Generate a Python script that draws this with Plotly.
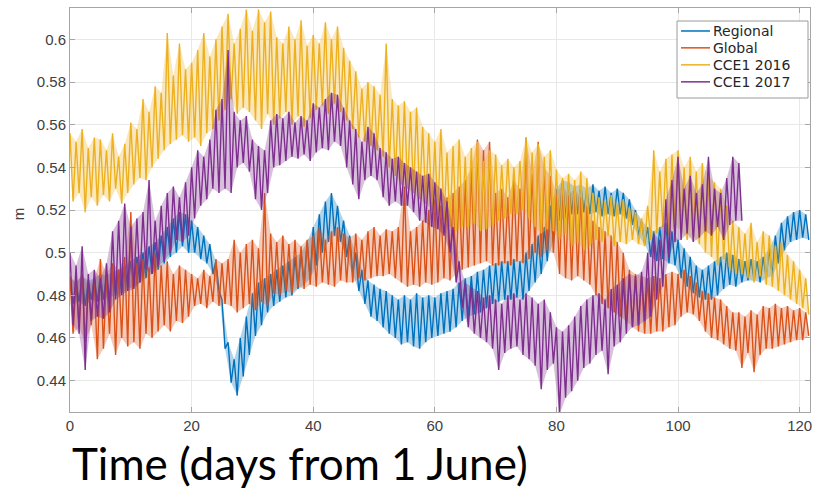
import plotly.graph_objects as go

# ---- data (peak / trough per day) ----
days = list(range(0, 122))

regional_hi = [0.488,0.486,0.489,0.487,0.488, 0.490,0.489,0.491,0.492,0.494,
               0.496,0.498,0.500,0.503,0.505, 0.508,0.512,0.516,0.519,0.518,
               0.515,0.512,0.508,0.504,0.496, 0.478,0.458,0.450,0.460,0.470,
               0.481,0.486,0.488,0.490,0.492, 0.494,0.496,0.498,0.500,0.505,
               0.512,0.518,0.524,0.528,0.522, 0.515,0.508,0.500,0.492,0.487,
               0.485,0.483,0.482,0.480,0.478, 0.480,0.478,0.481,0.479,0.480,
               0.479,0.481,0.482,0.483,0.486, 0.488,0.489,0.491,0.492,0.494,
               0.495,0.496,0.496,0.497,0.496, 0.500,0.504,0.508,0.512,0.522,
               0.530,0.534,0.533,0.531,0.532, 0.530,0.532,0.529,0.531,0.528,
               0.530,0.528,0.525,0.520,0.515, 0.512,0.510,0.512,0.514,0.510,
               0.506,0.502,0.498,0.494,0.492, 0.494,0.496,0.498,0.500,0.499,
               0.497,0.496,0.497,0.496,0.498, 0.502,0.508,0.514,0.517,0.519,
               0.520,0.518]
regional_lo = [0.476,0.477,0.475,0.478,0.477, 0.478,0.479,0.480,0.481,0.483,
               0.484,0.486,0.488,0.490,0.492, 0.495,0.498,0.500,0.503,0.500,
               0.500,0.497,0.495,0.490,0.482, 0.455,0.439,0.433,0.442,0.452,
               0.461,0.466,0.472,0.475,0.477, 0.479,0.480,0.483,0.485,0.488,
               0.494,0.500,0.505,0.508,0.505, 0.498,0.490,0.482,0.476,0.470,
               0.468,0.465,0.462,0.460,0.457, 0.458,0.456,0.455,0.458,0.460,
               0.461,0.462,0.463,0.465,0.468, 0.470,0.471,0.472,0.474,0.476,
               0.477,0.478,0.478,0.479,0.478, 0.482,0.486,0.490,0.496,0.505,
               0.515,0.516,0.518,0.518,0.519, 0.518,0.519,0.517,0.518,0.517,
               0.518,0.516,0.513,0.508,0.504, 0.498,0.496,0.497,0.495,0.494,
               0.488,0.484,0.481,0.479,0.478, 0.478,0.480,0.483,0.485,0.484,
               0.486,0.487,0.487,0.486,0.488, 0.489,0.495,0.501,0.505,0.506,
               0.507,0.506]

global_hi = [0.489,0.486,0.490,0.484,0.488, 0.497,0.490,0.495,0.492,0.498,
             0.519,0.495,0.497,0.493,0.500, 0.494,0.496,0.490,0.494,0.492,
             0.490,0.488,0.492,0.489,0.497, 0.495,0.497,0.506,0.500,0.504,
             0.506,0.502,0.528,0.509,0.505, 0.508,0.504,0.506,0.503,0.506,
             0.508,0.512,0.506,0.510,0.512, 0.509,0.507,0.509,0.506,0.510,
             0.512,0.508,0.511,0.510,0.512, 0.531,0.510,0.512,0.515,0.520,
             0.525,0.522,0.526,0.528,0.531, 0.534,0.540,0.553,0.548,0.552,
             0.528,0.530,0.526,0.534,0.530, 0.554,0.537,0.552,0.540,0.536,
             0.528,0.532,0.527,0.530,0.526, 0.522,0.515,0.512,0.510,0.508,
             0.505,0.500,0.492,0.490,0.489, 0.488,0.489,0.488,0.490,0.491,
             0.490,0.492,0.489,0.486,0.482, 0.481,0.479,0.478,0.475,0.472,
             0.472,0.470,0.473,0.471,0.475, 0.474,0.476,0.474,0.475,0.473,
             0.474,0.472]
global_lo = [0.462,0.465,0.458,0.466,0.450, 0.455,0.462,0.452,0.460,0.456,
             0.458,0.455,0.462,0.460,0.463, 0.466,0.463,0.468,0.467,0.470,
             0.475,0.476,0.474,0.477,0.475, 0.476,0.475,0.472,0.474,0.476,
             0.473,0.477,0.475,0.481,0.480, 0.482,0.481,0.484,0.483,0.485,
             0.484,0.486,0.485,0.484,0.487, 0.486,0.486,0.488,0.487,0.488,
             0.489,0.489,0.490,0.488,0.486, 0.484,0.485,0.484,0.486,0.485,
             0.486,0.488,0.487,0.490,0.492, 0.493,0.494,0.495,0.496,0.494,
             0.494,0.495,0.494,0.496,0.495, 0.497,0.500,0.498,0.501,0.500,
             0.490,0.488,0.487,0.489,0.487, 0.485,0.480,0.476,0.474,0.472,
             0.470,0.468,0.465,0.463,0.462, 0.462,0.463,0.463,0.465,0.466,
             0.470,0.472,0.471,0.468,0.463, 0.460,0.459,0.457,0.455,0.454,
             0.446,0.453,0.444,0.452,0.455, 0.455,0.456,0.457,0.458,0.459,
             0.459,0.461]

cce2016_hi = [0.556,0.552,0.558,0.549,0.554, 0.553,0.548,0.556,0.545,0.551,
              0.561,0.558,0.572,0.566,0.578, 0.575,0.603,0.583,0.598,0.586,
              0.589,0.595,0.603,0.592,0.600, 0.606,0.612,0.598,0.605,0.614,
              0.604,0.614,0.608,0.613,0.601, 0.598,0.606,0.600,0.609,0.597,
              0.602,0.598,0.608,0.600,0.606, 0.596,0.590,0.585,0.577,0.580,
              0.578,0.574,0.598,0.572,0.569, 0.571,0.566,0.568,0.559,0.556,
              0.552,0.558,0.547,0.550,0.553, 0.545,0.549,0.552,0.543,0.548,
              0.546,0.541,0.544,0.540,0.543, 0.554,0.547,0.551,0.545,0.548,
              0.539,0.535,0.537,0.534,0.538, 0.535,0.528,0.526,0.524,0.527,
              0.523,0.525,0.521,0.519,0.516, 0.522,0.548,0.538,0.544,0.546,
              0.548,0.540,0.545,0.538,0.542, 0.536,0.533,0.530,0.522,0.515,
              0.512,0.509,0.514,0.505,0.510, 0.508,0.503,0.505,0.499,0.496,
              0.492,0.488]
cce2016_lo = [0.524,0.528,0.519,0.526,0.522, 0.527,0.524,0.530,0.523,0.528,
              0.532,0.535,0.534,0.540,0.544, 0.548,0.551,0.553,0.555,0.552,
              0.554,0.550,0.556,0.558,0.562, 0.567,0.572,0.565,0.568,0.566,
              0.562,0.558,0.565,0.560,0.563, 0.566,0.560,0.564,0.559,0.563,
              0.567,0.569,0.565,0.570,0.566, 0.562,0.558,0.554,0.552,0.550,
              0.548,0.545,0.540,0.536,0.532, 0.530,0.528,0.525,0.523,0.520,
              0.518,0.515,0.512,0.510,0.512, 0.512,0.514,0.510,0.511,0.513,
              0.515,0.516,0.518,0.518,0.520, 0.516,0.512,0.509,0.511,0.510,
              0.506,0.509,0.503,0.505,0.501, 0.503,0.506,0.505,0.508,0.503,
              0.505,0.504,0.506,0.504,0.503, 0.506,0.509,0.512,0.508,0.513,
              0.510,0.506,0.508,0.504,0.500, 0.498,0.494,0.497,0.492,0.490,
              0.490,0.488,0.486,0.489,0.485, 0.484,0.482,0.480,0.478,0.476,
              0.474,0.471]

days_2017 = list(range(0, 111))
cce2017_hi = [0.500,0.494,0.503,0.490,0.492, 0.488,0.495,0.510,0.515,0.523,
              0.512,0.516,0.519,0.534,0.515, 0.522,0.528,0.531,0.526,0.533,
              0.540,0.548,0.545,0.553,0.567, 0.572,0.595,0.566,0.562,0.564,
              0.553,0.550,0.548,0.562,0.565, 0.563,0.566,0.561,0.564,0.562,
              0.570,0.568,0.572,0.575,0.574, 0.568,0.562,0.558,0.552,0.559,
              0.556,0.549,0.547,0.544,0.545, 0.542,0.540,0.538,0.536,0.537,
              0.533,0.530,0.524,0.512,0.496, 0.486,0.484,0.482,0.479,0.480,
              0.478,0.476,0.480,0.481,0.478, 0.481,0.479,0.476,0.478,0.472,
              0.465,0.463,0.466,0.470,0.475, 0.478,0.480,0.481,0.478,0.483,
              0.485,0.488,0.490,0.489,0.491, 0.500,0.509,0.506,0.525,0.534,
              0.545,0.530,0.536,0.528,0.532, 0.545,0.530,0.528,0.535,0.545,
              0.542]
cce2017_lo = [0.466,0.462,0.445,0.468,0.470, 0.469,0.472,0.478,0.480,0.482,
              0.483,0.486,0.492,0.490,0.494, 0.496,0.500,0.506,0.505,0.508,
              0.516,0.522,0.525,0.530,0.528, 0.530,0.528,0.540,0.542,0.538,
              0.525,0.520,0.528,0.540,0.541, 0.543,0.545,0.544,0.546,0.543,
              0.547,0.549,0.548,0.552,0.550, 0.540,0.532,0.525,0.534,0.536,
              0.534,0.526,0.522,0.524,0.522, 0.522,0.519,0.515,0.514,0.512,
              0.511,0.508,0.500,0.486,0.474, 0.465,0.462,0.460,0.458,0.455,
              0.445,0.453,0.455,0.456,0.452, 0.450,0.447,0.436,0.445,0.448,
              0.424,0.432,0.435,0.440,0.446, 0.448,0.452,0.454,0.443,0.456,
              0.458,0.462,0.465,0.466,0.468, 0.470,0.478,0.484,0.498,0.505,
              0.506,0.509,0.505,0.507,0.510, 0.508,0.512,0.506,0.513,0.515,
              0.515]

series_names = ["Regional", "Global", "CCE1 2016", "CCE1 2017"]
colors = ["#0072BD", "#D95319", "#EDB120", "#7E2F8E"]
fill_colors = ["rgba(0,114,189,0.3)", "rgba(217,83,25,0.3)",
               "rgba(237,177,32,0.3)", "rgba(126,47,142,0.3)"]

x_ticks = [0, 20, 40, 60, 80, 100, 120]
y_ticks = [0.44, 0.46, 0.48, 0.50, 0.52, 0.54, 0.56, 0.58, 0.60]
y_tick_text = ["0.44", "0.46", "0.48", "0.5", "0.52", "0.54", "0.56", "0.58", "0.6"]


def zigzag(d, hi, lo):
    xs, ys = [], []
    for t, h, l in zip(d, hi, lo):
        xs += [t, t + 0.5]
        ys += [h, l]
    return xs, ys


def band(d, hi, lo):
    xs = list(d) + [t + 0.5 for t in reversed(d)]
    ys = list(hi) + list(reversed(lo))
    return xs, ys


data = [
    (days, regional_hi, regional_lo),
    (days, global_hi, global_lo),
    (days, cce2016_hi, cce2016_lo),
    (days_2017, cce2017_hi, cce2017_lo),
]

fig = go.Figure()
for name, col, fcol, (d, hi, lo) in zip(series_names, colors, fill_colors, data):
    bx, by = band(d, hi, lo)
    fig.add_trace(go.Scatter(x=bx, y=by, mode="lines", fill="toself",
                             fillcolor=fcol, line=dict(width=0, color=col),
                             showlegend=False, hoverinfo="skip"))
    xs, ys = zigzag(d, hi, lo)
    fig.add_trace(go.Scatter(x=xs, y=ys, mode="lines", name=name,
                             line=dict(color=col, width=1.4), showlegend=False))

axis_common = dict(showline=True, linecolor="#a6a6a6", linewidth=1, mirror="ticks",
                   ticks="inside", ticklen=5, tickcolor="#a6a6a6", automargin=False,
                   showgrid=True, gridcolor="#e8e8e8", gridwidth=1, zeroline=False,
                   tickfont=dict(family="Liberation Sans", size=15, color="#404040"))

# ---- legend box drawn as shapes + text (paper coordinates) ----
shapes = [dict(type="rect", xref="paper", yref="paper",
               x0=0.8203, x1=0.9973, y0=0.7772, y1=0.9678,
               fillcolor="white", line=dict(color="#9a9a9a", width=1), layer="above")]
annotations = []
entry_y = [0.9431, 0.9014, 0.8593, 0.8172]
for name, col, ey in zip(series_names, colors, entry_y):
    shapes.append(dict(type="line", xref="paper", yref="paper",
                       x0=0.8257, x1=0.8649, y0=ey, y1=ey,
                       line=dict(color=col, width=1.5), layer="above"))
    annotations.append(dict(text=name, xref="paper", yref="paper", x=0.8665, y=ey,
                            xanchor="left", yanchor="middle", showarrow=False,
                            font=dict(family="DejaVu Sans", size=14, color="#262626")))

annotations += [
    dict(text="m", xref="paper", yref="paper", x=-0.07, y=0.49,
         xanchor="center", yanchor="middle", textangle=-90, showarrow=False,
         font=dict(family="Liberation Sans", size=15, color="#404040")),
    dict(text="Time (days from 1 June)", xref="paper", yref="paper",
         x=0.0, y=-0.195, xanchor="left", yanchor="bottom", showarrow=False,
         font=dict(family="Lato", size=44, color="black")),
]

fig.update_layout(
    width=813, height=491,
    margin=dict(l=70, r=3, t=8, b=79),
    paper_bgcolor="white", plot_bgcolor="white",
    xaxis=dict(range=[0, 121.7], tickvals=x_ticks, **axis_common),
    yaxis=dict(range=[0.4253, 0.6147], tickvals=y_ticks, ticktext=y_tick_text,
               **axis_common),
    showlegend=False,
    shapes=shapes,
    annotations=annotations,
)

fig.write_html("out.html", config={"displayModeBar": False},
               post_script="document.body.style.margin='0';document.body.style.padding='0';")
